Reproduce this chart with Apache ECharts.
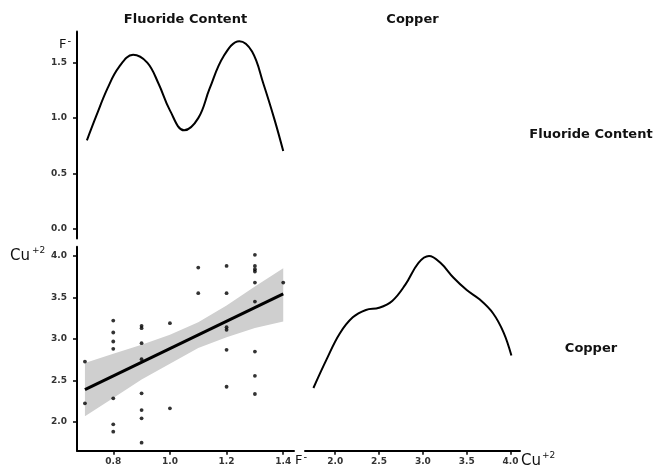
<!DOCTYPE html>
<html>
<head>
<meta charset="utf-8">
<script src="https://cdn.jsdelivr.net/npm/echarts@6/dist/echarts.min.js"></script>
<style>
html,body{margin:0;padding:0;background:#fff;}
#c{width:653px;height:471px;}
</style>
</head>
<body>
<div id="c"></div>
<script>
// ---- data ----
const fluorideTicks = [0.8, 1.0, 1.2, 1.4];
const copperTicks = [2.0, 2.5, 3.0, 3.5, 4.0];
const densityTicks = [0.0, 0.5, 1.0, 1.5];

// density of fluoride content (top-left diagonal)
const fluorideDensX = [0.707, 0.74, 0.78, 0.82, 0.87, 0.92, 0.96, 1.00, 1.05, 1.10, 1.14, 1.19, 1.245, 1.29, 1.33, 1.37, 1.40];
const fluorideDensY = [0.80, 1.02, 1.27, 1.46, 1.571, 1.50, 1.31, 1.07, 0.89, 1.00, 1.265, 1.56, 1.694, 1.60, 1.31, 0.98, 0.703];

// density of copper (bottom-right diagonal)
const copperDensX = [1.751, 1.9, 2.05, 2.2, 2.35, 2.5, 2.65, 2.8, 2.95, 3.07, 3.2, 3.35, 3.5, 3.65, 3.8, 3.92, 4.01];
const copperDensY = [0.196, 0.30, 0.395, 0.455, 0.482, 0.49, 0.515, 0.575, 0.655, 0.68, 0.655, 0.60, 0.555, 0.52, 0.47, 0.40, 0.315];

// scatter points: fluoride (x) vs copper (y)
const scatterF  = [0.7, 0.7,
  0.8, 0.8, 0.8, 0.8, 0.8, 0.8, 0.8,
  0.9, 0.9, 0.9, 0.9, 0.9, 0.9, 0.9, 0.9,
  1.0, 1.0,
  1.1, 1.1,
  1.2, 1.2, 1.2, 1.2, 1.2, 1.2,
  1.3, 1.3, 1.3, 1.3, 1.3, 1.3, 1.3, 1.3, 1.3,
  1.4];
const scatterCu = [2.727, 2.225,
  3.22, 3.076, 2.968, 2.88, 2.285, 1.972, 1.884,
  3.156, 3.128, 2.948, 2.756, 2.345, 2.144, 2.044, 1.751,
  3.189, 2.165,
  3.857, 3.549,
  3.877, 3.549, 3.14, 3.108, 2.868, 2.424,
  4.01, 3.877, 3.837, 3.81, 3.677, 3.448, 2.847, 2.555, 2.337,
  3.677];

// linear fit and its confidence band
const fitX = [0.7, 1.4];
const fitY = [2.39, 3.54];
const bandX = [0.7, 0.8, 0.9, 1.0, 1.1, 1.2, 1.3, 1.4];
const bandLower = [2.07, 2.29, 2.51, 2.70, 2.89, 3.02, 3.13, 3.21];
const bandUpper = [2.71, 2.82, 2.93, 3.05, 3.20, 3.40, 3.63, 3.85];

// ---- chart ----
const chart = echarts.init(document.getElementById('c'), null, {renderer: 'canvas'});
const tickFont = {fontFamily: '"DejaVu Sans", sans-serif', fontWeight: 'bold', fontSize: 9, color: '#333'};
const fmt1 = v => Number(v).toFixed(1);
const axLine = {show: true, onZero: false, lineStyle: {color: '#000', width: 2}};
const axTick = vals => ({show: true, length: 4, customValues: vals, lineStyle: {color: '#000', width: 1.5}});
const lbl = (x, y, text, size, weight, align) => ({type: 'text', x: x, y: y,
  style: {text: text, font: (weight || 'normal') + ' ' + size + 'px "DejaVu Sans"', fill: '#111',
    textAlign: align || 'left', textVerticalAlign: 'middle'}});

const option = {
  backgroundColor: '#fff',
  animation: false,
  grid: [
    {left: 77, top: 31.5, width: 217, height: 207},
    {left: 77, top: 246.7, width: 217, height: 204},
    {left: 305, top: 246.7, width: 215, height: 204}
  ],
  xAxis: [
    {gridIndex: 0, type: 'value', min: 0.672, max: 1.438, show: false},
    {gridIndex: 1, type: 'value', min: 0.672, max: 1.438,
      axisLine: axLine, axisTick: axTick(fluorideTicks), splitLine: {show: false},
      axisLabel: Object.assign({customValues: fluorideTicks, margin: 6, formatter: fmt1}, tickFont)},
    {gridIndex: 2, type: 'value', min: 1.655, max: 4.108,
      axisLine: axLine, axisTick: axTick(copperTicks), splitLine: {show: false},
      axisLabel: Object.assign({customValues: copperTicks, margin: 6, formatter: fmt1}, tickFont)}
  ],
  yAxis: [
    {gridIndex: 0, type: 'value', min: -0.085, max: 1.781,
      axisLine: axLine, axisTick: axTick(densityTicks), splitLine: {show: false},
      axisLabel: Object.assign({customValues: densityTicks, margin: 10, formatter: fmt1}, tickFont)},
    {gridIndex: 1, type: 'value', min: 1.655, max: 4.108,
      axisLine: axLine, axisTick: axTick(copperTicks), splitLine: {show: false},
      axisLabel: Object.assign({customValues: copperTicks, margin: 10, formatter: fmt1}, tickFont)},
    {gridIndex: 2, type: 'value', min: -0.034, max: 0.714, show: false}
  ],
  series: [
    {
      type: 'line', xAxisIndex: 0, yAxisIndex: 0, smooth: 0.4, symbol: 'none',
      lineStyle: {color: '#000', width: 2},
      data: fluorideDensX.map((x, i) => [x, fluorideDensY[i]])
    },
    {
      type: 'custom', xAxisIndex: 1, yAxisIndex: 1, silent: true, z: 1,
      data: bandX.map((x, i) => [x, bandLower[i], bandUpper[i]]),
      renderItem: function (params, api) {
        if (params.dataIndex !== 0) return null;
        const pts = [];
        for (let i = 0; i < bandX.length; i++) pts.push(api.coord([bandX[i], bandUpper[i]]));
        for (let i = bandX.length - 1; i >= 0; i--) pts.push(api.coord([bandX[i], bandLower[i]]));
        return {type: 'polygon', shape: {points: pts}, style: {fill: '#cfcfcf'}};
      }
    },
    {
      type: 'scatter', xAxisIndex: 1, yAxisIndex: 1, symbolSize: 3.8, z: 2,
      itemStyle: {color: '#000'},
      data: scatterF.map((x, i) => [x, scatterCu[i]])
    },
    {
      type: 'line', xAxisIndex: 1, yAxisIndex: 1, symbol: 'none', z: 3,
      lineStyle: {color: '#000', width: 3},
      data: fitX.map((x, i) => [x, fitY[i]])
    },
    {
      type: 'line', xAxisIndex: 2, yAxisIndex: 2, smooth: 0.4, symbol: 'none',
      lineStyle: {color: '#000', width: 2},
      data: copperDensX.map((x, i) => [x, copperDensY[i]])
    }
  ],
  graphic: [
    lbl(185.5, 20, 'Fluoride Content', 13, 'bold', 'center'),
    lbl(412.5, 20, 'Copper', 13, 'bold', 'center'),
    lbl(591, 135, 'Fluoride Content', 13, 'bold', 'center'),
    lbl(591, 349, 'Copper', 13, 'bold', 'center'),
    lbl(59, 45, 'F', 13),
    lbl(67.5, 41, '-', 10),
    lbl(10, 256, 'Cu', 15),
    lbl(32, 251, '+2', 9),
    lbl(295, 461, 'F', 13),
    lbl(303.5, 457, '-', 10),
    lbl(521, 461, 'Cu', 15),
    lbl(542, 456, '+2', 9)
  ]
};
chart.setOption(option);
</script>
</body>
</html>
